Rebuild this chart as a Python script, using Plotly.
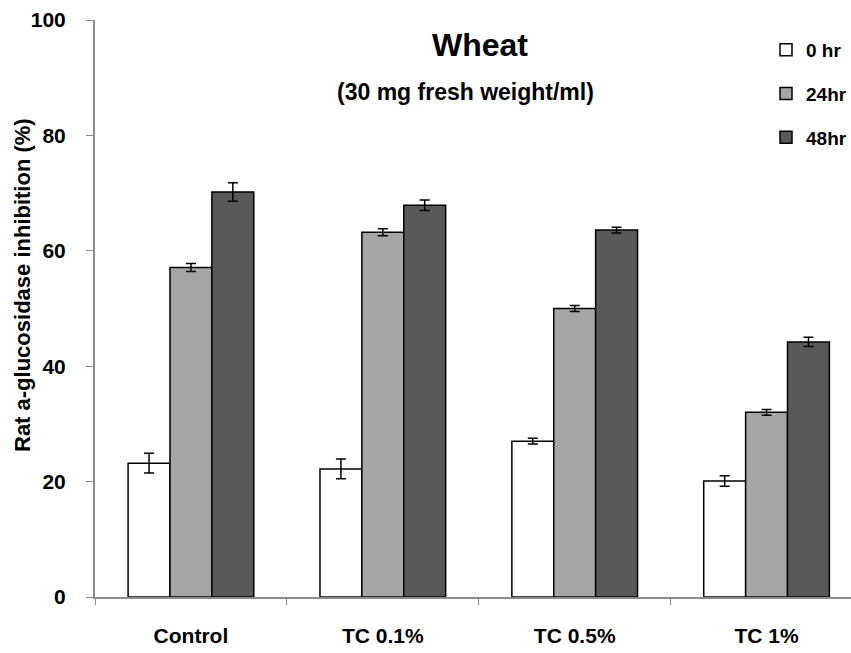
import plotly.graph_objects as go

# Rat alpha-glucosidase inhibition of wheat sprouts, by treatment and time
categories = ["Control", "TC 0.1%", "TC 0.5%", "TC 1%"]
series_names = ["0 hr", "24hr", "48hr"]
inhibition_0hr = [23.2, 22.2, 27.0, 20.1]
inhibition_24hr = [57.1, 63.2, 50.0, 32.0]
inhibition_48hr = [70.2, 67.9, 63.6, 44.2]
error_0hr = [1.7, 1.7, 0.5, 0.9]
error_24hr = [0.7, 0.6, 0.5, 0.5]
error_48hr = [1.6, 0.9, 0.5, 0.8]
y_ticks = [0, 20, 40, 60, 80, 100]

values = [inhibition_0hr, inhibition_24hr, inhibition_48hr]
errors = [error_0hr, error_24hr, error_48hr]
fills = ["#ffffff", "#a6a6a6", "#595959"]

FONT = "Liberation Sans, Arial, sans-serif"
W, H = 851, 653
ML, MR, MT, MB = 95, 0, 20, 56
PW, PH = W - ML - MR, H - MT - MB
AXIS_GREY = "#8c8c8c"


def px_x(x):
    return (x - ML) / PW


def px_y(y):
    return 1 - (y - MT) / PH


fig = go.Figure()
for name, vals, errs, fill in zip(series_names, values, errors, fills):
    fig.add_trace(go.Bar(
        x=categories, y=vals, name=f"<b>{name}</b>", legendgroup=name,
        marker=dict(color=fill, line=dict(color="#000000", width=1.5)),
        error_y=dict(type="data", array=errs, visible=True,
                     color="#000000", thickness=1.5, width=5),
    ))

# invisible companion trace that carries the y tick labels on a second axis
fig.add_trace(go.Scatter(x=[categories[0]], y=[y_ticks[0]], yaxis="y2",
                         mode="markers", marker=dict(opacity=0),
                         showlegend=False, hoverinfo="skip"))

fig.update_layout(
    width=W, height=H,
    margin=dict(l=ML, r=MR, t=MT, b=MB, autoexpand=False),
    paper_bgcolor="#ffffff", plot_bgcolor="#ffffff",
    barmode="group", bargap=0.345, bargroupgap=0,
    showlegend=True,
    legend=dict(x=px_x(766), y=px_y(31), xanchor="left", yanchor="top",
                font=dict(family=FONT, size=19, color="#000000"),
                tracegroupgap=16, itemwidth=30,
                bgcolor="rgba(0,0,0,0)"),
    xaxis=dict(
        range=[-0.5, 3.44], tickson="boundaries", ticks="outside",
        ticklen=6, tickcolor=AXIS_GREY, showline=True, linecolor=AXIS_GREY,
        linewidth=1.5, showgrid=False, ticklabelstandoff=19,
        tickvals=categories, ticktext=[f"<b>{c}</b>" for c in categories],
        tickfont=dict(family=FONT, size=21, color="#000000"),
    ),
    yaxis=dict(
        range=[0, 100], tickvals=y_ticks, showticklabels=False,
        ticks="outside", ticklen=7,
        tickcolor=AXIS_GREY, showline=True, linecolor=AXIS_GREY,
        linewidth=1.5, showgrid=False, zeroline=False,
    ),
    yaxis2=dict(
        range=[0, 100], tickvals=y_ticks, overlaying="y", side="left",
        ticktext=[f"<b>{t}</b>" for t in y_ticks],
        ticks="outside", ticklen=24, tickcolor="rgba(0,0,0,0)",
        showline=False, showgrid=False, zeroline=False,
        tickfont=dict(family=FONT, size=21, color="#000000"),
    ),
    annotations=[
        dict(text="<b>Wheat</b>", x=px_x(480), y=px_y(45),
             xanchor="center", yanchor="middle",
             xref="paper", yref="paper", showarrow=False,
             font=dict(family=FONT, size=32, color="#000000")),
        dict(text="<b>(30 mg fresh weight/ml)</b>", x=px_x(465), y=px_y(92),
             xanchor="center", yanchor="middle",
             xref="paper", yref="paper", showarrow=False,
             font=dict(family=FONT, size=23, color="#000000")),
        dict(text="<b>Rat a-glucosidase inhibition (%)</b>", textangle=-90,
             x=px_x(22), y=px_y(285), xanchor="center", yanchor="middle",
             xref="paper", yref="paper", showarrow=False,
             font=dict(family=FONT, size=22, color="#000000")),
    ],
)

fig.write_html("out.html")
